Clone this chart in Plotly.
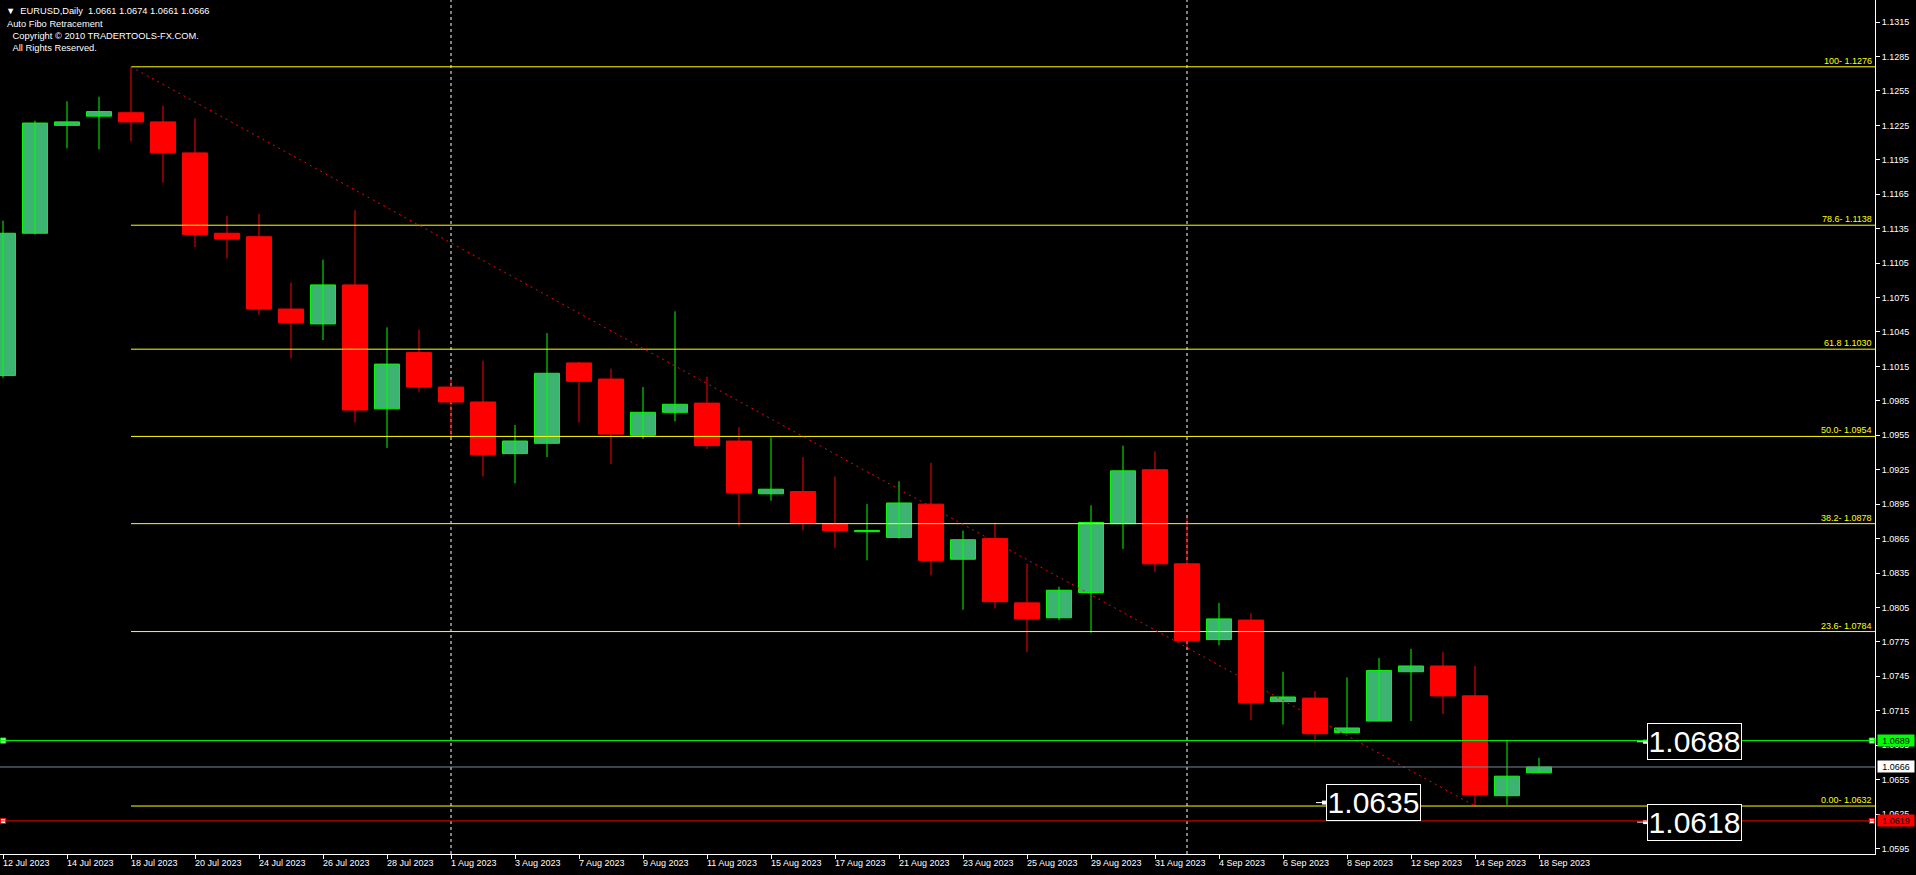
import plotly.graph_objects as go

# ---------------- data ----------------
dates = ["12 Jul 2023", "13 Jul 2023", "14 Jul 2023", "17 Jul 2023", "18 Jul 2023", "19 Jul 2023",
         "20 Jul 2023", "21 Jul 2023", "24 Jul 2023", "25 Jul 2023", "26 Jul 2023", "27 Jul 2023",
         "28 Jul 2023", "31 Jul 2023",
         "1 Aug 2023", "2 Aug 2023", "3 Aug 2023", "4 Aug 2023", "7 Aug 2023", "8 Aug 2023",
         "9 Aug 2023", "10 Aug 2023", "11 Aug 2023", "14 Aug 2023", "15 Aug 2023", "16 Aug 2023",
         "17 Aug 2023", "18 Aug 2023", "21 Aug 2023", "22 Aug 2023", "23 Aug 2023", "24 Aug 2023",
         "25 Aug 2023", "28 Aug 2023", "29 Aug 2023", "30 Aug 2023", "31 Aug 2023",
         "1 Sep 2023", "4 Sep 2023", "5 Sep 2023", "6 Sep 2023", "7 Sep 2023", "8 Sep 2023",
         "11 Sep 2023", "12 Sep 2023", "13 Sep 2023", "14 Sep 2023", "15 Sep 2023", "18 Sep 2023"]

open_ = [1.1007, 1.1131, 1.1225, 1.1233, 1.1236, 1.1228, 1.1201, 1.1131, 1.1128, 1.1065, 1.1052, 1.1086, 1.0978, 1.1027,
         1.0997, 1.0984, 1.0939, 1.0948, 1.1018, 1.1004, 1.0955, 1.0975, 1.0983, 1.0950, 1.0904, 1.0906, 1.0878, 1.0871,
         1.0866, 1.0895, 1.0847, 1.0865, 1.0809, 1.0796, 1.0818, 1.0878, 1.0925,
         1.0843, 1.0777, 1.0794, 1.0723, 1.0726, 1.0696, 1.0706, 1.0749, 1.0754, 1.0728, 1.0641, 1.0661]
high = [1.1142, 1.1229, 1.1246, 1.1250, 1.1276, 1.1242, 1.1231, 1.1146, 1.1148, 1.1088, 1.1108, 1.1151, 1.1049, 1.1047,
        1.1004, 1.1020, 1.0964, 1.1044, 1.1019, 1.1013, 1.0997, 1.1063, 1.1006, 1.0962, 1.0953, 1.0936, 1.0919, 1.0895,
        1.0915, 1.0931, 1.0872, 1.0878, 1.0843, 1.0823, 1.0894, 1.0946, 1.0941,
        1.0883, 1.0809, 1.0800, 1.0749, 1.0732, 1.0744, 1.0761, 1.0769, 1.0766, 1.0754, 1.0689, 1.0674]
low = [1.1005, 1.1130, 1.1205, 1.1204, 1.1211, 1.1175, 1.1119, 1.1109, 1.1060, 1.1022, 1.1038, 1.0966, 1.0944, 1.0993,
       1.0954, 1.0919, 1.0913, 1.0936, 1.0966, 1.0930, 1.0952, 1.0967, 1.0943, 1.0876, 1.0898, 1.0872, 1.0857, 1.0846,
       1.0865, 1.0833, 1.0803, 1.0804, 1.0766, 1.0794, 1.0783, 1.0856, 1.0836,
       1.0770, 1.0772, 1.0707, 1.0703, 1.0687, 1.0695, 1.0706, 1.0706, 1.0712, 1.0632, 1.0633, 1.0661]
close = [1.1131, 1.1227, 1.1228, 1.1237, 1.1228, 1.1201, 1.1130, 1.1126, 1.1065, 1.1053, 1.1086, 1.0977, 1.1017, 1.0997,
         1.0984, 1.0938, 1.0950, 1.1009, 1.1002, 1.0956, 1.0975, 1.0982, 1.0946, 1.0905, 1.0908, 1.0879, 1.0872, 1.0872,
         1.0896, 1.0846, 1.0864, 1.0810, 1.0795, 1.0820, 1.0879, 1.0924, 1.0843,
         1.0776, 1.0795, 1.0722, 1.0727, 1.0695, 1.0700, 1.0750, 1.0754, 1.0728, 1.0642, 1.0658, 1.0666]

fib_ratio_labels = ["100-", "78.6-", "61.8", "50.0-", "38.2-", "23.6-", "0.00-"]
fib_levels = [1.1276, 1.1138, 1.1030, 1.0954, 1.0878, 1.0784, 1.0632]
fib_start_bar = 4
fib_end_bar = 46

y_ticks = [1.0595, 1.0625, 1.0655, 1.0685, 1.0715, 1.0745, 1.0775, 1.0805, 1.0835, 1.0865, 1.0895,
           1.0925, 1.0955, 1.0985, 1.1015, 1.1045, 1.1075, 1.1105, 1.1135, 1.1165, 1.1195, 1.1225,
           1.1255, 1.1285, 1.1315]

ask_price = 1.0689
bid_price = 1.0666
red_price = 1.0619
big_label_prices = [1.0688, 1.0618, 1.0635]
big_label_bars = [51.375, 51.375, 41.34]

separator_bars = [14, 37]

header_lines = ["\u25BC\u00a0 EURUSD,Daily\u00a0\u00a01.0661 1.0674 1.0661 1.0666",
                "Auto Fibo Retracement",
                "\u00a0Copyright \u00a9 2010 TRADERTOOLS-FX.COM.",
                "\u00a0All Rights Reserved."]

# ---------------- styling ----------------
BULL_FILL = "#3CB371"
BULL_LINE = "#00FF00"
BEAR = "#FF0000"
YELLOW = "#FFFF00"
FONT = "Liberation Sans, Arial, sans-serif"

X_RANGE = [-0.09375, 58.5]
Y_RANGE = [1.05902, 1.13342]
PLOT_H = 854

idx = list(range(len(dates)))
bull = [i for i in idx if close[i] >= open_[i]]
bear = [i for i in idx if close[i] < open_[i]]

fig = go.Figure()

# period separators
for b in separator_bars:
    fig.add_shape(type="line", x0=b, x1=b, y0=0, y1=1, xref="x", yref="paper",
                  line=dict(color="white", width=1, dash="3px,3px"), layer="below")


def wick_trace(ids, color):
    xs, ys = [], []
    for i in ids:
        xs += [i, i, None]
        ys += [low[i], high[i], None]
    return go.Scatter(x=xs, y=ys, mode="lines", line=dict(color=color, width=1),
                      hoverinfo="skip", cliponaxis=True)


fig.add_trace(wick_trace(bull, BULL_LINE))
fig.add_trace(wick_trace(bear, BEAR))


def body_trace(ids, fill, line):
    base = [min(open_[i], close[i]) for i in ids]
    h = [max(abs(close[i] - open_[i]), 0.00002) for i in ids]
    return go.Bar(x=ids, y=h, base=base, width=0.78,
                  marker=dict(color=fill, line=dict(color=line, width=1)),
                  hoverinfo="skip")


fig.add_trace(body_trace(bull, BULL_FILL, BULL_LINE))
fig.add_trace(body_trace(bear, BEAR, BEAR))

# fibo levels
for lvl in fib_levels:
    fig.add_trace(go.Scatter(x=[fib_start_bar, X_RANGE[1]], y=[lvl, lvl], mode="lines",
                             line=dict(color=YELLOW, width=1), hoverinfo="skip"))
for lab, lvl in zip(fib_ratio_labels, fib_levels):
    fig.add_annotation(x=1, xref="paper", xanchor="right", xshift=-2, y=lvl, yref="y",
                       yanchor="bottom", yshift=0, text=f"{lab} {lvl:.4f}", showarrow=False,
                       borderpad=0, font=dict(color=YELLOW, size=9, family=FONT))

# trend line (high -> low)
fig.add_trace(go.Scatter(x=[fib_start_bar, fib_end_bar], y=[high[fib_start_bar], low[fib_end_bar]],
                         mode="lines", line=dict(color=BEAR, width=1, dash="2px,4px"), hoverinfo="skip"))

# price lines
for price, col in [(ask_price, "#00FF00"), (bid_price, "#778899"), (red_price, "#FF0000")]:
    fig.add_shape(type="line", x0=0, x1=1, xref="paper", y0=price, y1=price, yref="y",
                  line=dict(color=col, width=1))
for price, col in [(ask_price, "#00FF00"), (red_price, "#FF0000")]:
    fig.add_trace(go.Scatter(x=[X_RANGE[0] + 0.1, X_RANGE[1] - 0.1], y=[price, price], mode="markers",
                             marker=dict(symbol="square", size=5, color="white", line=dict(color=col, width=1)),
                             hoverinfo="skip", cliponaxis=False))

# right-axis price boxes
for price, bg in [(ask_price, "#00FF00"), (bid_price, "#FFFFFF"), (red_price, "#FF0000")]:
    fig.add_annotation(x=1, xref="paper", xanchor="left", xshift=2, y=price, yref="y", yanchor="middle",
                       text=f"{price:.4f}", showarrow=False, bgcolor=bg, borderpad=0, width=36, height=11,
                       font=dict(color="black", size=9, family=FONT))

# big price labels
for price, bx in zip(big_label_prices, big_label_bars):
    fig.add_trace(go.Scatter(x=[bx - 0.31, bx - 0.06], y=[price, price], mode="lines",
                             line=dict(color="white", width=1), hoverinfo="skip", cliponaxis=False))
    fig.add_trace(go.Scatter(x=[bx - 0.06], y=[price], mode="markers",
                             marker=dict(symbol="square", size=4, color="white"), hoverinfo="skip",
                             cliponaxis=False))
    fig.add_annotation(x=bx, xref="x", xanchor="left", y=price, yref="y", yanchor="middle",
                       text=f"{price:.4f}", showarrow=False, bgcolor="black", bordercolor="white",
                       borderwidth=1, borderpad=0, width=93, height=35,
                       font=dict(color="white", size=30, family=FONT))

# date labels (left aligned at tick)
for i in idx[::2]:
    fig.add_annotation(x=i, xref="x", xanchor="left", xshift=-1, y=0, yref="paper", yanchor="top",
                       yshift=-3, text=dates[i], showarrow=False, borderpad=0,
                       font=dict(color="white", size=9, family=FONT))

# header text
header_px = [(5, 11), (6, 24), (9, 36), (9, 48)]
for txt, (xs, ypx) in zip(header_lines, header_px):
    fig.add_annotation(x=0, xref="paper", xanchor="left", xshift=xs, y=1 - ypx / PLOT_H, yref="paper",
                       yanchor="middle", text=txt, showarrow=False, borderpad=0,
                       font=dict(color="white", size=9.3, family=FONT))

fig.update_layout(
    width=1916, height=875,
    margin=dict(l=0, r=41, t=0, b=21, pad=0),
    paper_bgcolor="black", plot_bgcolor="black",
    showlegend=False, hovermode=False, barmode="overlay",
    xaxis=dict(range=X_RANGE, showgrid=False, zeroline=False, tickmode="array", tickvals=idx[::2],
               showticklabels=False, ticks="outside", ticklen=4, tickcolor="white",
               showline=True, linecolor="white", linewidth=1, fixedrange=True),
    yaxis=dict(range=Y_RANGE, side="right", showgrid=False, zeroline=False, tickmode="array",
               tickvals=y_ticks, ticktext=[f"{v:.4f}" for v in y_ticks], ticks="outside", ticklen=4,
               tickcolor="white", tickfont=dict(color="white", size=9, family=FONT),
               showline=True, linecolor="white", linewidth=1, mirror=True, fixedrange=True),
)

fig.write_html("out.html", config={"displayModeBar": False},
               post_script="document.body.style.margin='0';document.body.style.overflow='hidden';")
